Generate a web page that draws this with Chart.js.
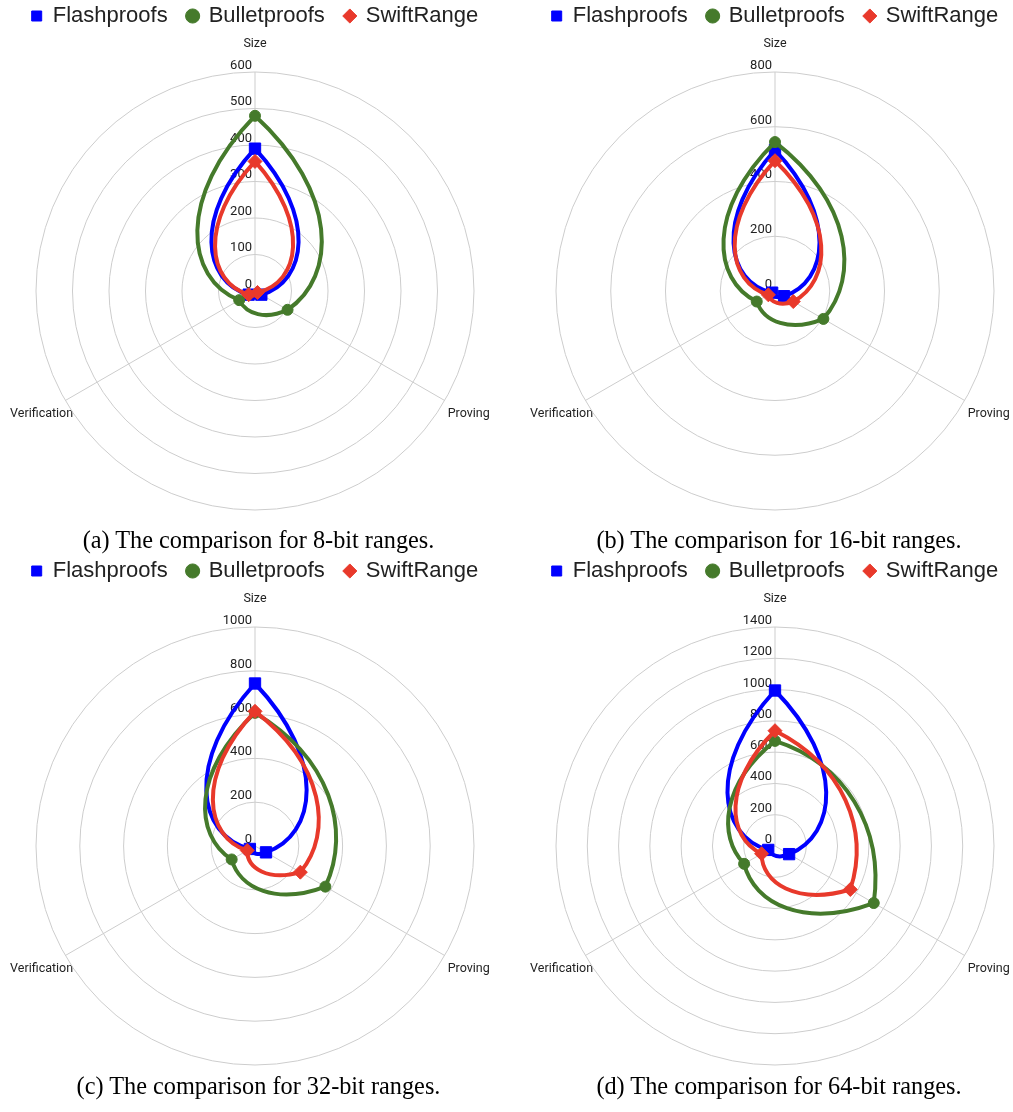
<!DOCTYPE html>
<html>
<head>
<meta charset="utf-8">
<script src="https://cdn.jsdelivr.net/npm/chart.js@4.4.1/dist/chart.umd.min.js"></script>
<style>
html,body{margin:0;padding:0;background:#fff;overflow:hidden;}
#page{position:relative;width:1013px;height:1112px;overflow:hidden;background:#fff;}
canvas{position:absolute;}
.cap{position:absolute;font-family:'Liberation Serif','Times New Roman',serif;font-size:24.3px;line-height:24px;color:#000;text-align:center;white-space:nowrap;}
</style>
</head>
<body>
<div id="page">
  <canvas id="c0" width="640" height="542" style="left:-65px;top:-17px;width:640px;height:542px"></canvas>
  <canvas id="c1" width="640" height="542" style="left:455px;top:-17px;width:640px;height:542px"></canvas>
  <canvas id="c2" width="640" height="542" style="left:-65px;top:538px;width:640px;height:542px"></canvas>
  <canvas id="c3" width="640" height="542" style="left:455px;top:538px;width:640px;height:542px"></canvas>
  <div class="cap" id="cap0" style="left:0;width:517px;top:528px"></div>
  <div class="cap" id="cap1" style="left:520px;width:518px;top:528px"></div>
  <div class="cap" id="cap2" style="left:0;width:517px;top:1074px"></div>
  <div class="cap" id="cap3" style="left:520px;width:518px;top:1074px"></div>
</div>
<script>
// ---- data ----
const categories = ['Size', 'Proving', 'Verification'];
const seriesNames = ['Flashproofs', 'Bulletproofs', 'SwiftRange'];

const flash8   = [390, 20, 20];
const bullet8  = [480, 103, 50];
const swift8   = [355, 8, 20];

const flash16  = [515, 38, 12];
const bullet16 = [544, 204, 77];
const swift16  = [476, 77, 28];

const flash32  = [742, 58, 27];
const bullet32 = [608, 371, 123];
const swift32  = [615, 239, 41];

const flash64  = [994, 104, 50];
const bullet64 = [672, 729, 228];
const swift64  = [737, 556, 99];

const scaleMax  = [600, 800, 1000, 1400];
const scaleStep = [100, 200, 200, 200];

const captions = [
  '(a) The comparison for 8-bit ranges.',
  '(b) The comparison for 16-bit ranges.',
  '(c) The comparison for 32-bit ranges.',
  '(d) The comparison for 64-bit ranges.'
];

// ---- styles ----
const colors = ['#0000ff', '#457a2b', '#e8392b'];
const pointStyles = ['rect', 'circle', 'rectRot'];
const pointRadii = [8, 5.5, 7];
const drawOrder = [2, 1, 0];
const labelPadding = [27.33, 3.5, -9];
const labelLineHeight = [0.0533, 1.88, 2.88];

// Curves between axis points follow the polar arc (control points on the spiral at 1/3, 2/3)
const polarCurvePlugin = {
  id: 'polarCurve',
  beforeDatasetsDraw(chart) {
    const scale = chart.scales.r;
    chart.getSortedVisibleDatasetMetas().forEach(meta => {
      const line = meta.dataset, pts = meta.data, n = pts.length;
      if (!line || n < 2) return;
      line.updateControlPoints(chart.chartArea);
      const rs = pts.map(p => Math.hypot(p.x - scale.xCenter, p.y - scale.yCenter));
      for (let i = 0; i < n; i++) {
        const j = (i + 1) % n;
        const a0 = scale.getIndexAngle(i);
        let a1 = scale.getIndexAngle(j);
        if (a1 <= a0) a1 += Math.PI * 2;
        const at = t => scale.getPointPosition(i, rs[i] + (rs[j] - rs[i]) * t, (a1 - a0) * t);
        const c1 = at(1 / 3), c2 = at(2 / 3);
        pts[i].cp2x = c1.x; pts[i].cp2y = c1.y;
        pts[j].cp1x = c2.x; pts[j].cp1y = c2.y;
      }
      line._path = undefined;
    });
  }
};

// Tick labels drawn left of the vertical axis, just above each ring
const tickLabelPlugin = {
  id: 'tickLabels',
  beforeDatasetsDraw(chart) {
    const s = chart.scales.r, ctx = chart.ctx;
    ctx.save();
    ctx.font = '13px Roboto, "Liberation Sans", sans-serif';
    ctx.fillStyle = '#222';
    ctx.textAlign = 'right';
    ctx.textBaseline = 'alphabetic';
    s.ticks.forEach(t => {
      const d = s.getDistanceFromCenterForValue(t.value);
      ctx.fillText(String(t.value), s.xCenter - 3, s.yCenter - d - 3);
    });
    ctx.restore();
  }
};

function dataset(k, values) {
  return {
    label: seriesNames[k],
    data: values,
    borderColor: colors[k],
    backgroundColor: colors[k],
    fill: false,
    borderWidth: 4,
    tension: 0.3,
    pointStyle: pointStyles[k],
    pointRadius: pointRadii[k],
    pointHoverRadius: pointRadii[k],
    pointBackgroundColor: colors[k],
    pointBorderColor: colors[k],
    pointBorderWidth: 1,
    order: drawOrder[k]
  };
}

function makeChart(idx, flash, bullet, swift) {
  new Chart(document.getElementById('c' + idx), {
    type: 'radar',
    data: {
      labels: categories,
      datasets: [dataset(0, flash), dataset(1, bullet), dataset(2, swift)]
    },
    options: {
      responsive: false,
      animation: false,
      devicePixelRatio: 1,
      events: [],
      layout: { padding: { top: 2, left: 0, right: 0, bottom: 0 } },
      plugins: {
        legend: {
          position: 'top',
          align: 'center',
          maxHeight: 46,
          labels: {
            usePointStyle: true,
            boxWidth: 10,
            boxHeight: 10,
            padding: 20,
            color: '#222',
            font: { family: "'Liberation Sans', Arial, sans-serif", size: 22 },
            sort: (a, b) => a.datasetIndex - b.datasetIndex
          }
        },
        tooltip: { enabled: false }
      },
      scales: {
        r: {
          min: 0,
          max: scaleMax[idx],
          beginAtZero: true,
          ticks: { display: false, stepSize: scaleStep[idx] },
          grid: { circular: true, color: '#cdcdcd', lineWidth: 1 },
          angleLines: { color: '#cdcdcd', lineWidth: 1 },
          pointLabels: {
            color: '#222',
            font: ctx => ({ family: 'Roboto', size: 12.5, lineHeight: labelLineHeight[ctx.index] }),
            padding: ctx => labelPadding[ctx.index]
          }
        }
      }
    },
    plugins: [tickLabelPlugin, polarCurvePlugin]
  });
  document.getElementById('cap' + idx).textContent = captions[idx];
}

makeChart(0, flash8, bullet8, swift8);
makeChart(1, flash16, bullet16, swift16);
makeChart(2, flash32, bullet32, swift32);
makeChart(3, flash64, bullet64, swift64);
</script>
</body>
</html>
